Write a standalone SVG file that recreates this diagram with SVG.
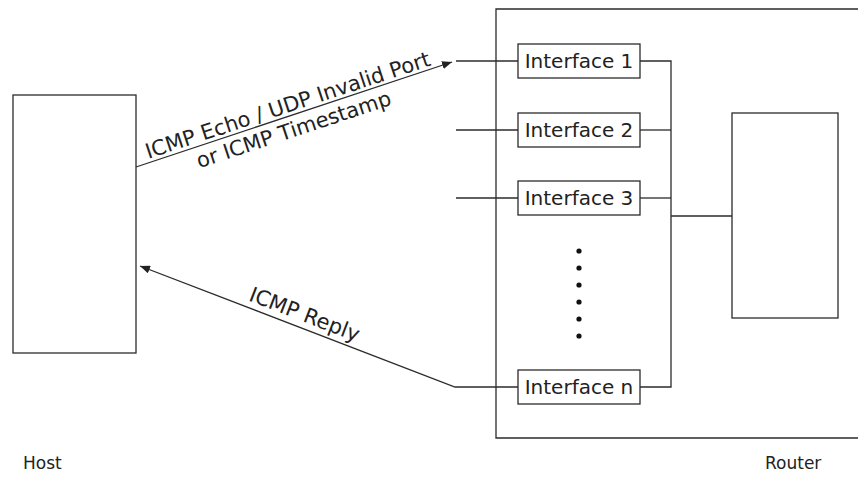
<svg xmlns="http://www.w3.org/2000/svg" width="858" height="492" viewBox="0 0 858 492">
  <style>
    .box { fill: none; stroke: #2b2b2b; stroke-width: 1.3; }
    .wire { fill: none; stroke: #2b2b2b; stroke-width: 1.3; }
    .lbl { font-family: "DejaVu Sans", Verdana, sans-serif; font-size: 20px; fill: #222; }
    .flow { font-family: "DejaVu Sans", Verdana, sans-serif; font-size: 21px; fill: #222; }
    .cap { font-family: "DejaVu Sans", Verdana, sans-serif; font-size: 17px; fill: #222; }
    .dot { fill: #111; }
  </style>
  <defs>
    <marker id="arrow" viewBox="0 0 10 8" refX="10" refY="4" markerWidth="10" markerHeight="8" markerUnits="userSpaceOnUse" orient="auto">
      <path d="M0,0 L10,4 L0,8 Z" fill="#222"/>
    </marker>
  </defs>

  <!-- host -->
  <g id="host">
    <rect class="box" x="13" y="95" width="123" height="258"/>
    <text class="cap" x="23" y="469">Host</text>
  </g>

  <!-- router enclosure -->
  <g id="router">
    <path class="box" d="M860,9 H496 V438 H860"/>
    <text class="cap" x="765" y="469">Router</text>
  </g>

  <g id="iface1">
    <rect class="box" x="518" y="44" width="122" height="34"/>
    <text class="lbl" x="579" y="68" text-anchor="middle">Interface 1</text>
  </g>
  <g id="iface2">
    <rect class="box" x="518" y="113" width="122" height="34"/>
    <text class="lbl" x="579" y="137" text-anchor="middle">Interface 2</text>
  </g>
  <g id="iface3">
    <rect class="box" x="518" y="181" width="122" height="34"/>
    <text class="lbl" x="579" y="205" text-anchor="middle">Interface 3</text>
  </g>
  <g id="ifacen">
    <rect class="box" x="518" y="370" width="122" height="34"/>
    <text class="lbl" x="579" y="394" text-anchor="middle">Interface n</text>
  </g>

  <g id="ellipsis">
    <circle class="dot" cx="579" cy="251" r="2.6"/>
    <circle class="dot" cx="579" cy="268" r="2.6"/>
    <circle class="dot" cx="579" cy="285" r="2.6"/>
    <circle class="dot" cx="579" cy="302" r="2.6"/>
    <circle class="dot" cx="579" cy="319" r="2.6"/>
    <circle class="dot" cx="579" cy="336" r="2.6"/>
  </g>

  <g id="fabric">
    <rect class="box" x="732" y="113" width="106" height="205"/>
  </g>

  <g id="connectors">
    <!-- ports into the interfaces -->
    <line class="wire" x1="456" y1="61" x2="518" y2="61"/>
    <line class="wire" x1="456" y1="130" x2="518" y2="130"/>
    <line class="wire" x1="456" y1="198" x2="518" y2="198"/>
    <!-- internal bus -->
    <path class="wire" d="M640,61 H671 V387 H640"/>
    <line class="wire" x1="640" y1="130" x2="671" y2="130"/>
    <line class="wire" x1="640" y1="198" x2="671" y2="198"/>
    <line class="wire" x1="671" y1="216" x2="732" y2="216"/>
    <!-- probe from host -->
    <line class="wire" x1="136" y1="167" x2="452" y2="62" marker-end="url(#arrow)"/>
    <!-- reply back to host -->
    <path class="wire" d="M518,387 H455 L140,266" marker-end="url(#arrow)"/>
  </g>

  <g id="labels">
    <g transform="translate(290,112) rotate(-18.3)">
      <text class="flow" x="0" y="0" text-anchor="middle">ICMP Echo / UDP Invalid Port</text>
      <text class="flow" x="-2" y="25" text-anchor="middle">or ICMP Timestamp</text>
    </g>
    <text class="flow" transform="translate(302,321) rotate(21)" text-anchor="middle">ICMP Reply</text>
  </g>
</svg>
